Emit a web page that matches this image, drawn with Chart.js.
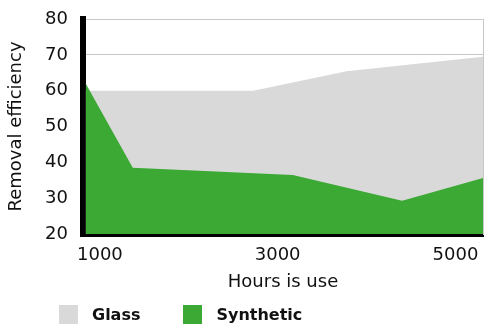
<!DOCTYPE html>
<html>
<head>
<meta charset="utf-8">
<script src="https://cdn.jsdelivr.net/npm/chart.js@4/dist/chart.umd.min.js"></script>
<style>
  html, body { margin: 0; padding: 0; background: #fff; }
  #wrap { position: relative; width: 484px; height: 325px; }
  #legend { position: absolute; left: 59px; top: 305px; display: flex; align-items: center;
            font-family: "DejaVu Sans", sans-serif; font-weight: bold; font-size: 16px; color: #111; }
  #legend .item { display: flex; align-items: center; margin-right: 43px; }
  #legend .box { width: 19px; height: 19px; margin-right: 14px; }
</style>
</head>
<body>
<div id="wrap">
  <canvas id="c" width="484" height="325"></canvas>
  <div id="legend"></div>
</div>
<script>
// Removal efficiency (%) against hours in use, per filter media
const glassHours = [840, 2725, 3775, 5310];
const glassEfficiency = [60, 60, 65.4, 69.5];
const syntheticHours = [840, 1370, 3170, 4400, 5310];
const syntheticEfficiency = [62, 38.5, 36.5, 29.3, 35.6];
const hourTicks = [1000, 3000, 5000];
const efficiencyTicks = [20, 30, 40, 50, 60, 70, 80];

const GRAY = '#d9d9d9';
const GREEN = '#3ca935';
const FONT = '"DejaVu Sans", sans-serif';

const toPoints = (xs, ys) => xs.map((x, i) => ({ x, y: ys[i] }));

const chart = new Chart(document.getElementById('c'), {
  type: 'line',
  data: {
    datasets: [
      {
        label: 'Glass',
        data: toPoints(glassHours, glassEfficiency),
        backgroundColor: GRAY,
        borderWidth: 0,
        pointRadius: 0,
        fill: 'start',
        order: 1
      },
      {
        label: 'Synthetic',
        data: toPoints(syntheticHours, syntheticEfficiency),
        backgroundColor: GREEN,
        borderWidth: 0,
        pointRadius: 0,
        fill: 'start',
        order: 0
      }
    ]
  },
  options: {
    responsive: false,
    animation: false,
    layout: { padding: { top: 19, right: 1, bottom: 30, left: 0 } },
    plugins: { legend: { display: false }, tooltip: { enabled: false } },
    scales: {
      x: {
        type: 'linear',
        min: 810,
        max: 5310,
        z: 1,
        afterBuildTicks: s => { s.ticks = hourTicks.map(v => ({ value: v })); },
        afterFit: s => { s.height = 61; s.paddingLeft = 0; s.paddingRight = 0; },
        grid: { display: false, drawTicks: false },
        border: { display: true, color: '#000', width: 6 },
        ticks: { color: '#111', padding: 11, font: { family: FONT, size: 18 },
                 callback: v => String(v) },
        title: { display: true, text: 'Hours is use', color: '#111', padding: { top: 4, bottom: 2 },
                 font: { family: FONT, size: 18 } }
      },
      y: {
        min: 20,
        max: 80,
        z: 1,
        afterBuildTicks: s => { s.ticks = efficiencyTicks.map(v => ({ value: v })); },
        afterFit: s => { s.width = 83; s.paddingTop = 0; s.paddingBottom = 0; },
        grid: {
          drawTicks: false,
          lineWidth: 1,
          color: c => (c.tick && c.tick.value >= 70 ? '#c8c8c8' : 'rgba(0,0,0,0)')
        },
        border: { display: true, color: '#000', width: 6 },
        ticks: { color: '#111', padding: 15, font: { family: FONT, size: 18 } },
        title: { display: true, text: 'Removal efficiency', color: '#111', padding: { top: 6, bottom: 0 },
                 font: { family: FONT, size: 18 } }
      },
      frame: {
        position: 'right',
        display: true,
        afterFit: s => { s.width = 0; s.paddingTop = 0; s.paddingBottom = 0; },
        grid: { display: false, drawTicks: false },
        ticks: { display: false },
        border: { display: true, color: '#c8c8c8', width: 1 }
      }
    }
  }
});

// Legend built from the chart's own datasets
const legend = document.getElementById('legend');
chart.data.datasets.forEach(ds => {
  const item = document.createElement('div');
  item.className = 'item';
  const box = document.createElement('span');
  box.className = 'box';
  box.style.background = ds.backgroundColor;
  const label = document.createElement('span');
  label.textContent = ds.label;
  item.appendChild(box);
  item.appendChild(label);
  legend.appendChild(item);
});
</script>
</body>
</html>
